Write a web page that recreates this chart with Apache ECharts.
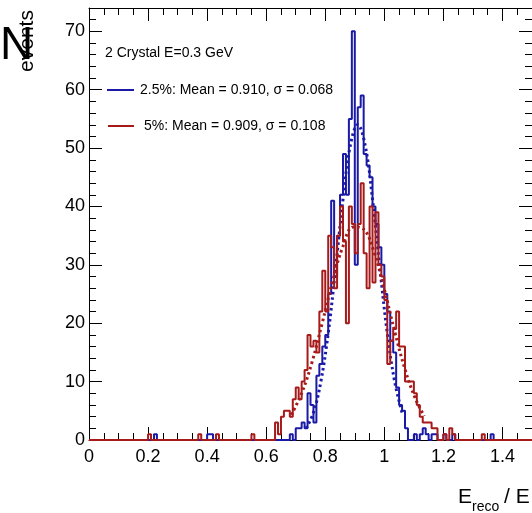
<!DOCTYPE html>
<html>
<head>
<meta charset="utf-8">
<script src="https://cdn.jsdelivr.net/npm/echarts@6/dist/echarts.min.js"></script>
<style>
html, body { margin: 0; padding: 0; background: #fff; }
#chart { width: 532px; height: 513px; }
</style>
</head>
<body>
<div id="chart"></div>
<script>
// histogram binning (E_reco / E_true)
const binWidth = 0.01
const xMax = 1.5
const yMax = 74

// 2.5% smearing, bins from 0.68 up to 1.17
const blueStart = 0.68
const blueCounts = [1, 0, 2, 2, 3, 2, 8, 6, 3, 11,
  13, 16, 18, 25, 41, 28, 35, 42, 49, 42,
  55, 70, 30, 57, 59, 49, 47, 45, 40, 37,
  33, 30, 25, 22, 17, 15, 9, 6, 5, 2,
  0, 0, 1, 0, 1, 2, 1, 0, 1, 1]
const blueOutliers = [[0.22, 1], [0.40, 1], [0.41, 1], [1.20, 1], [1.23, 1], [1.36, 1]]

// 5% smearing, bins from 0.63 up to 1.23
const redStart = 0.63
const redCounts = [3, 1, 4, 5, 5, 4, 7, 9, 7, 10,
  12, 18, 16, 17, 15, 22, 29, 22, 35, 33,
  26, 35, 40, 34, 20, 40, 37, 32, 37, 44,
  32, 26, 40, 27, 39, 30, 28, 24, 13, 17,
  19, 22, 16, 16, 10, 10, 10, 8, 6, 4,
  3, 3, 3, 2, 2, 0, 0, 1, 0, 2,
  1]
const redOutliers = [[0.20, 1], [0.37, 1], [0.43, 1], [0.55, 1], [1.33, 1]]

// gaussian fit curves
const blueFitX = [0.735, 0.76, 0.785, 0.81, 0.835, 0.86, 0.885, 0.91, 0.935, 0.96, 0.985, 1.01, 1.035, 1.06]
const blueFitY = [2, 4.7, 10, 18.3, 29.4, 41.2, 50.5, 54, 50.5, 41.2, 29.4, 18.3, 10, 4.7]
const redFitX = [0.685, 0.72, 0.755, 0.79, 0.825, 0.86, 0.895, 0.93, 0.965, 1.0, 1.035, 1.07, 1.105, 1.135]
const redFitY = [4.3, 8, 13.3, 20.1, 27.2, 33.2, 36.5, 36.1, 32.2, 25.8, 18.6, 12.1, 7.1, 4.1]

const blueColor = '#1a1aa6'
const redColor = '#a61a1a'
const font = '"Liberation Sans", Arial, Helvetica, sans-serif'

// full bin list -> step line points [lowEdge, count]
function histPoints(start, counts, outliers) {
  const n = Math.round(xMax / binWidth)
  const bins = new Array(n).fill(0)
  const s = Math.round(start / binWidth)
  counts.forEach((c, i) => { bins[s + i] = c })
  outliers.forEach(([x, c]) => { bins[Math.round(x / binWidth)] = c })
  const pts = bins.map((c, i) => [+(i * binWidth).toFixed(2), c])
  pts.push([xMax, bins[n - 1]])
  return pts
}

const black = { color: '#000', width: 1 }

function xAx(pos, interval, len, labels) {
  return {
    type: 'value', min: 0, max: xMax, interval: interval, position: pos,
    axisLine: { show: labels !== null, onZero: false, lineStyle: black },
    axisTick: { inside: true, length: len, lineStyle: black },
    axisLabel: labels ? { show: true, color: '#000', fontSize: 18, fontFamily: font, margin: 8, showMaxLabel: false } : { show: false },
    splitLine: { show: false }
  }
}
function yAx(pos, interval, len, labels) {
  return {
    type: 'value', min: 0, max: yMax, interval: interval, position: pos,
    axisLine: { show: labels !== null, onZero: false, lineStyle: black },
    axisTick: { inside: true, length: len, lineStyle: black },
    axisLabel: labels ? { show: true, color: '#000', fontSize: 18, fontFamily: font, margin: 4, showMaxLabel: false } : { show: false },
    splitLine: { show: false }
  }
}

const chart = echarts.init(document.getElementById('chart'))
chart.setOption({
  animation: false,
  backgroundColor: '#fff',
  grid: { left: 89, top: 8, width: 455, height: 432 },
  xAxis: [
    xAx('bottom', 0.2, 13, true),
    xAx('bottom', 0.05, 7, null),
    xAx('top', 0.2, 13, false),
    xAx('top', 0.05, 7, null)
  ],
  yAxis: [
    yAx('left', 10, 13, true),
    yAx('left', 2, 7, null),
    yAx('right', 10, 13, false),
    yAx('right', 2, 7, null)
  ],
  series: [
    {
      name: '2.5%', type: 'line', step: 'end', data: histPoints(blueStart, blueCounts, blueOutliers),
      symbol: 'none', lineStyle: { color: blueColor, width: 2 }
    },
    {
      name: '2.5% fit', type: 'line', smooth: 0.4, data: blueFitX.map((x, i) => [x, blueFitY[i]]),
      symbol: 'none', lineStyle: { color: blueColor, width: 3, type: [2.5, 3], cap: 'butt' }
    },
    {
      name: '5%', type: 'line', step: 'end', data: histPoints(redStart, redCounts, redOutliers),
      symbol: 'none', lineStyle: { color: redColor, width: 2 }
    },
    {
      name: '5% fit', type: 'line', smooth: 0.4, data: redFitX.map((x, i) => [x, redFitY[i]]),
      symbol: 'none', lineStyle: { color: redColor, width: 3, type: [2.5, 3], cap: 'butt' }
    }
  ],
  graphic: [
    { type: 'text', x: 105, y: 53, style: { text: '2 Crystal E=0.3 GeV', font: '14px ' + font, fill: '#000', textVerticalAlign: 'middle' } },
    { type: 'line', shape: { x1: 107, y1: 90, x2: 134, y2: 90 }, style: { stroke: blueColor, lineWidth: 2 } },
    { type: 'text', x: 140, y: 90, style: { text: '2.5%: Mean = 0.910, σ = 0.068', font: '14px ' + font, fill: '#000', textVerticalAlign: 'middle' } },
    { type: 'line', shape: { x1: 108, y1: 126, x2: 134, y2: 126 }, style: { stroke: redColor, lineWidth: 2 } },
    { type: 'text', x: 144, y: 126, style: { text: '5%: Mean = 0.909, σ = 0.108', font: '14px ' + font, fill: '#000', textVerticalAlign: 'middle' } },
    // y title N_events
    { type: 'text', x: 0, y: 46, style: { text: 'N', font: '46px ' + font, fill: '#000', textVerticalAlign: 'middle' } },
    { type: 'text', x: 38, y: 41, rotation: Math.PI / 2, style: { text: 'events', font: '21px ' + font, fill: '#000', textAlign: 'center', textVerticalAlign: 'bottom' } },
    // x title E_reco / E_true
    { type: 'text', x: 458, y: 508, style: { text: 'E', font: '21px ' + font, fill: '#000', textVerticalAlign: 'bottom' } },
    { type: 'text', x: 472, y: 514, style: { text: 'reco', font: '14px ' + font, fill: '#000', textVerticalAlign: 'bottom' } },
    { type: 'text', x: 504, y: 508, style: { text: '/ E', font: '21px ' + font, fill: '#000', textVerticalAlign: 'bottom' } },
    { type: 'text', x: 538, y: 514, style: { text: 'true', font: '14px ' + font, fill: '#000', textVerticalAlign: 'bottom' } }
  ]
})
</script>
</body>
</html>
